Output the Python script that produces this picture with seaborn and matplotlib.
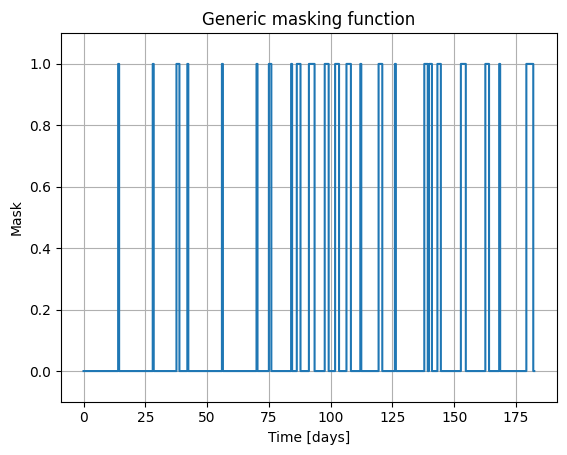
import matplotlib
matplotlib.use("Agg")
import matplotlib.pyplot as plt
import numpy as np
import pandas as pd
import seaborn as sns

# intervalos (em dias) em que a máscara vale 1
pulse_start = [14.0, 28.0, 37.6, 42.0, 56.0, 70.0, 75.0, 84.0, 86.3, 91.2,
               97.6, 101.8, 106.4, 112.0, 119.4, 126.0, 137.9, 139.8, 143.2,
               152.7, 162.6, 168.2, 179.2]
pulse_end = [14.4, 28.4, 38.8, 42.4, 56.4, 70.4, 76.0, 84.4, 87.8, 93.5,
             99.2, 103.4, 108.2, 112.4, 120.9, 126.4, 139.3, 141.0, 144.6,
             154.7, 164.1, 168.6, 182.0]
t_end = 182.4

t = np.round(np.arange(0, t_end + 0.05, 0.1), 2)
mask = np.zeros_like(t)
for s, e in zip(pulse_start, pulse_end):
    mask[(t >= s - 1e-9) & (t < e - 1e-9)] = 1.0

df = pd.DataFrame({"time": t, "mask": mask})

fig, ax = plt.subplots(figsize=(5.67, 4.55), dpi=100)
fig.subplots_adjust(left=0.1076, right=0.982, top=0.927, bottom=0.117)
sns.lineplot(data=df, x="time", y="mask", ax=ax, drawstyle="steps-post",
             color="#1f77b4", linewidth=1.5)
ax.set_ylim(-0.1, 1.1)
ax.set_xticks([0, 25, 50, 75, 100, 125, 150, 175])
ax.set_yticks([0.0, 0.2, 0.4, 0.6, 0.8, 1.0])
ax.set_title("Generic masking function")
ax.set_xlabel("Time [days]")
ax.set_ylabel("Mask")
ax.grid(True)
fig.savefig("out.png", dpi=100)
